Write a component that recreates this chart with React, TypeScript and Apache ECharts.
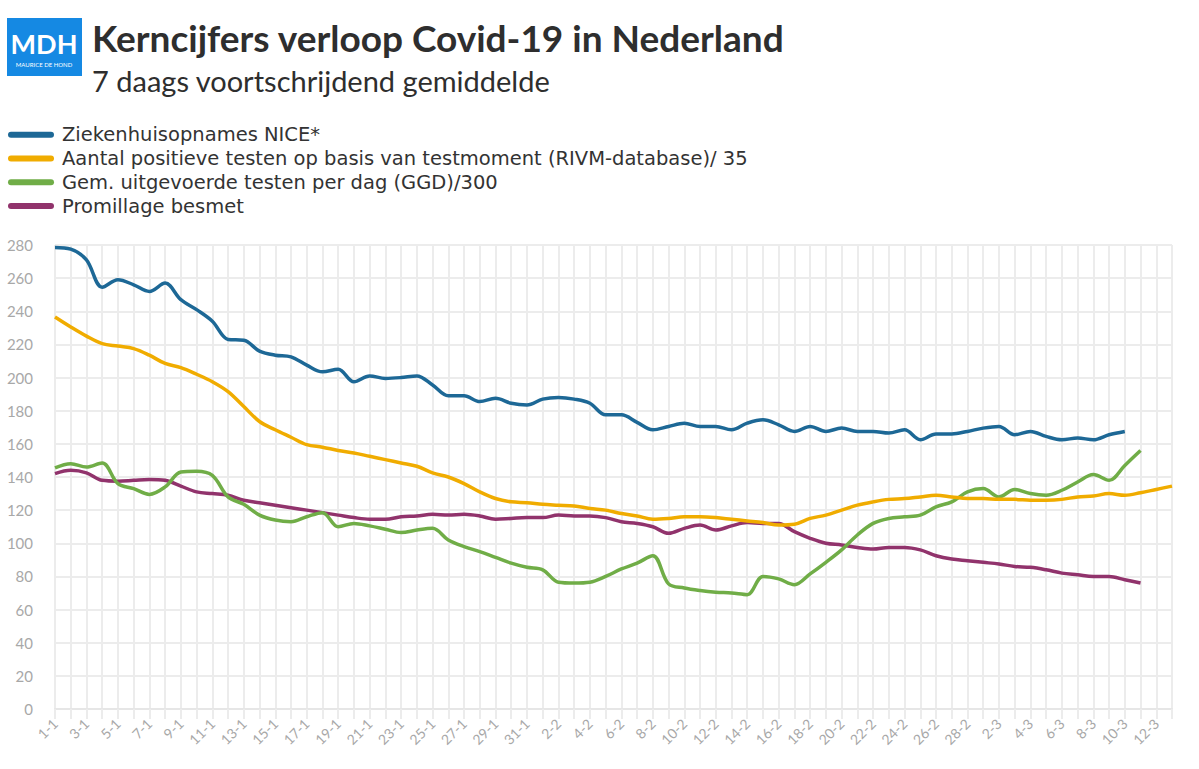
import React, { useEffect, useRef } from "react";
import * as echarts from "echarts";

const categories = [
  "1-1","2-1","3-1","4-1","5-1","6-1","7-1","8-1","9-1","10-1","11-1","12-1","13-1","14-1","15-1","16-1",
  "17-1","18-1","19-1","20-1","21-1","22-1","23-1","24-1","25-1","26-1","27-1","28-1","29-1","30-1","31-1",
  "1-2","2-2","3-2","4-2","5-2","6-2","7-2","8-2","9-2","10-2","11-2","12-2","13-2","14-2","15-2","16-2",
  "17-2","18-2","19-2","20-2","21-2","22-2","23-2","24-2","25-2","26-2","27-2","28-2",
  "1-3","2-3","3-3","4-3","5-3","6-3","7-3","8-3","9-3","10-3","11-3","12-3","13-3",
];

const ziekenhuis = [
  278.5, 277.5, 271, 254.5, 259, 256, 252, 257, 247, 241, 234, 223, 222.5, 216, 213.5, 212.5,
  207.5, 203.5, 205, 197.5, 201, 199.5, 200, 201, 195.5, 189, 189, 185.5, 187.5, 184.5, 183.5,
  187, 188, 187, 184.5, 177.5, 177.5, 173, 168.5, 170.5, 172.5, 170.5, 170.5, 168.5, 172.5, 174.5, 171.5,
  167.5, 170.5, 167.5, 169.5, 167.5, 167.5, 166.5, 168.5, 162.5, 166, 166, 167.5,
  169.5, 170.5, 165.5, 167.5, 164.5, 162.5, 163.5, 162.5, 165.5, 167.5, null, null, null,
];

const positief = [
  236.5, 230.5, 225, 220.5, 219, 217.5, 213.5, 208.5, 206, 202, 197.5, 191.5, 182.5, 173.5, 168.5, 164,
  159.5, 158, 156, 154.5, 152.5, 150.5, 148.5, 146.5, 142.5, 140, 136, 131, 127, 125, 124.5,
  123.5, 123, 122.5, 121, 120, 118, 116.5, 114.5, 115, 116, 116, 115.5, 114.5, 113.5, 112.5, 111,
  111.5, 115, 117, 120, 123, 125, 126.5, 127, 128, 129, 128, 127,
  127, 126.5, 126.5, 126, 126, 126.5, 128, 128.5, 130, 129, 130.5, 132.5, 134.5,
];

const testen = [
  145.5, 148, 146, 148.5, 136, 133, 129.5, 134, 143, 143.5, 141, 128, 123.5, 117, 114, 113,
  116, 118.5, 110, 112, 110.5, 108.5, 106.5, 108, 109, 102, 98, 95, 91.5, 88, 85.5,
  84, 76.5, 76, 76.5, 80, 84.5, 88, 92.5, 75.5, 73, 71.5, 70.5, 70, 69, 80, 78.5,
  75, 81.5, 88.5, 96, 105, 112, 115, 116, 117, 122, 125, 131,
  133, 128, 132.5, 130, 129, 132, 137, 141.5, 138, 147, 156, null, null,
];

const promillage = [
  142, 144, 142.5, 138, 137.5, 138, 138.5, 138, 134.5, 131, 130, 129, 126, 124.5, 123, 121.5,
  120, 118.5, 117, 115.5, 114.5, 114.5, 116, 116.5, 117.5, 117, 117.5, 116.5, 114.5, 115, 115.5,
  115.5, 117, 116.5, 116.5, 115.5, 113, 112, 110, 106, 109, 111, 108, 110.5, 112.5, 112, 112,
  107, 103, 100, 99, 97.5, 96.5, 97.5, 97.5, 96, 92.5, 90.5, 89.5,
  88.5, 87.5, 86, 85.5, 84, 82, 81, 80, 80, 78, 76, null, null,
];

const seriesNames = [
  "Ziekenhuisopnames NICE*",
  "Aantal positieve testen op basis van testmoment (RIVM-database)/ 35",
  "Gem. uitgevoerde testen per dag (GGD)/300",
  "Promillage besmet",
];
const seriesColors = ["#1d6896", "#f0ac00", "#70ad47", "#91336c"];
const seriesData = [ziekenhuis, positief, testen, promillage];

const FONT = "Lato, 'Noto Sans', sans-serif";
const LEGEND_FONT = "'DejaVu Sans', 'Open Sans', sans-serif";

export default function App() {
  const ref = useRef<HTMLDivElement>(null);
  useEffect(() => {
    if (!ref.current) return;
    const chart = echarts.init(ref.current, null, { renderer: "svg" });
    const legendIcon = "path://M3,0 L43,0 A3,3 0 0 1 43,6 L3,6 A3,3 0 0 1 3,0 Z";
    chart.setOption({
      animation: false,
      backgroundColor: "#ffffff",
      textStyle: { fontFamily: FONT },
      graphic: [
        { type: "rect", shape: { x: 7, y: 18, width: 75, height: 58 }, style: { fill: "#1589e3" } },
        {
          type: "text", x: 44, y: 43,
          style: { text: "MDH", fill: "#ffffff", font: "bold 27px " + FONT, align: "center", verticalAlign: "middle" },
        },
        {
          type: "text", x: 44, y: 64,
          style: { text: "MAURICE DE HOND", fill: "#ffffff", font: "6px " + FONT, align: "center", verticalAlign: "middle" },
        },
        {
          type: "text", x: 92, y: 37,
          style: { text: "Kerncijfers verloop Covid-19 in Nederland", fill: "#2e2e2e", font: "bold 37px " + FONT, verticalAlign: "middle" },
        },
        {
          type: "text", x: 92, y: 80,
          style: { text: "7 daags voortschrijdend gemiddelde", fill: "#2e2e2e", font: "29px " + FONT, verticalAlign: "middle" },
        },
      ],
      legend: {
        show: true,
        orient: "vertical",
        left: 8,
        top: 124.7,
        padding: 0,
        itemWidth: 46,
        itemHeight: 7,
        itemGap: 3.8,
        icon: legendIcon,
        textStyle: { fontSize: 19.5, lineHeight: 19.5, color: "#333333", fontFamily: LEGEND_FONT, padding: [0, 0, 0, 3] },
        data: seriesNames,
      },
      grid: { left: 55, right: 27, top: 245, bottom: 60, containLabel: false },
      xAxis: {
        type: "category",
        data: categories,
        boundaryGap: false,
        axisLine: { show: true, lineStyle: { color: "#e6e6e6", width: 2 } },
        axisTick: { show: true, length: 10, interval: 0, lineStyle: { color: "#ececec", width: 2 } },
        splitLine: { show: true, interval: 0, lineStyle: { color: "#ececec", width: 2 } },
        axisLabel: { interval: 1, rotate: 45, margin: 12, color: "#a8a8a8", fontSize: 14, fontFamily: FONT },
      },
      yAxis: {
        type: "value",
        min: 0,
        max: 280,
        interval: 20,
        axisLine: { show: false },
        axisTick: { show: false },
        splitLine: { show: true, lineStyle: { color: "#ececec", width: 2 } },
        axisLabel: { margin: 22, color: "#a8a8a8", fontSize: 15, fontFamily: FONT },
      },
      series: seriesData.map((d, k) => ({
        name: seriesNames[k],
        type: "line",
        data: d,
        smooth: 0.35,
        symbol: "none",
        connectNulls: false,
        lineStyle: { color: seriesColors[k], width: 3.5 },
        itemStyle: { color: seriesColors[k] },
        z: 10 - k,
      })),
    });
    return () => chart.dispose();
  }, []);
  return <div ref={ref} style={{ width: 1199, height: 769, position: "absolute", left: 0, top: 0 }} />;
}
